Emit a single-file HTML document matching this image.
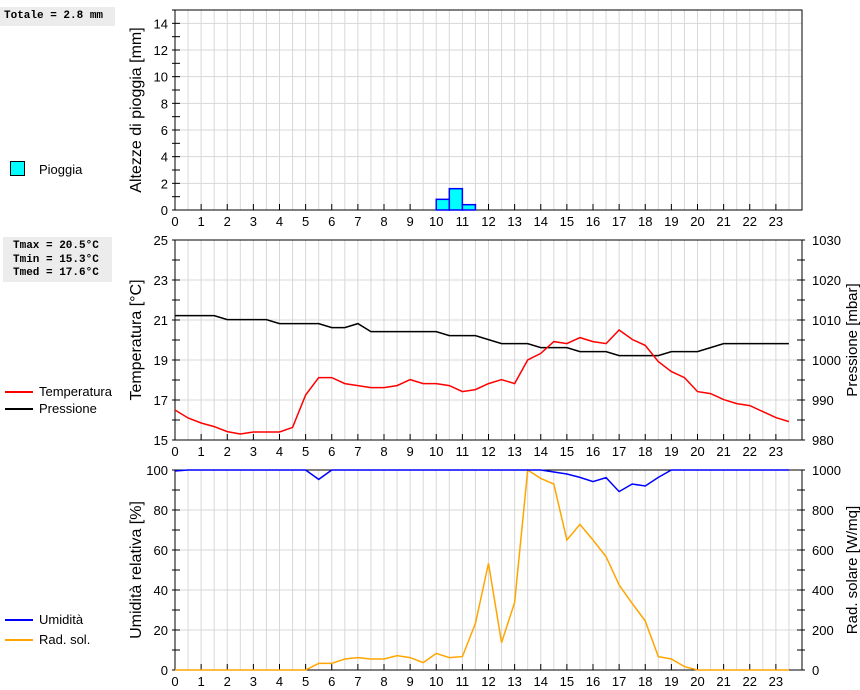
<!DOCTYPE html>
<html><head><meta charset="utf-8"><style>
body{margin:0;background:#fff;width:860px;height:690px;overflow:hidden;font-family:"Liberation Sans",sans-serif}
svg{display:block}
.box{font-family:"Liberation Mono",monospace;font-weight:bold;font-size:11px}
</style></head><body>
<svg id="c" width="860" height="690" xmlns="http://www.w3.org/2000/svg"></svg>
<script>
const hours=[];for(let i=0;i<48;i++)hours.push(i*0.5);
const rainT=[10,10.5,11];
const rainV=[0.8,1.6,0.4];
const temp=[16.5,16.1,15.85,15.67,15.42,15.3,15.4,15.4,15.4,15.63,17.25,18.12,18.12,17.82,17.72,17.62,17.62,17.72,18.02,17.82,17.82,17.72,17.42,17.52,17.82,18.02,17.82,19.0,19.33,19.92,19.82,20.12,19.92,19.82,20.5,20.03,19.73,18.92,18.42,18.12,17.42,17.32,17.02,16.82,16.72,16.42,16.12,15.92];
const press=[1011.1,1011.1,1011.1,1011.1,1010.1,1010.1,1010.1,1010.1,1009.1,1009.1,1009.1,1009.1,1008.1,1008.1,1009.1,1007.1,1007.1,1007.1,1007.1,1007.1,1007.1,1006.1,1006.1,1006.1,1005.1,1004.1,1004.1,1004.1,1003.1,1003.1,1003.1,1002.1,1002.1,1002.1,1001.1,1001.1,1001.1,1001.1,1002.1,1002.1,1002.1,1003.1,1004.1,1004.1,1004.1,1004.1,1004.1,1004.1];
const hum=[99.5,100,100,100,100,100,100,100,100,100,100,95.3,100,100,100,100,100,100,100,100,100,100,100,100,100,100,100,100,100,99,98,96.3,94.2,96.2,89.2,93,92,96.3,100,100,100,100,100,100,100,100,100,100];
const rad=[0,0,0,0,0,0,0,0,0,0,0,33,33,55,62,55,55,72,62,37,83,62,67,233,533,137,337,1050,958,930,650,728,650,567,425,333,245,67,55,17,0,0,0,0,0,0,0,0];
const xTicks=[];for(let i=0;i<24;i++)xTicks.push(i);

const S=document.getElementById('c');const NS='http://www.w3.org/2000/svg';
function el(t,a,p){const e=document.createElementNS(NS,t);for(const k in a)e.setAttribute(k,a[k]);(p||S).appendChild(e);return e;}
const X0=175,X1=802;const xs=t=>X0+t*(X1-X0)/24;
function panel(name,top,bot,lmin,lmax,lstep,lminor,rmin,rmax,rstep,ltitle,rtitle){
  const g=el('g',{});
  const ly=v=>bot-(v-lmin)/(lmax-lmin)*(bot-top);
  for(let t=0.5;t<24;t+=0.5)el('line',{x1:xs(t),x2:xs(t),y1:top,y2:bot,stroke:'#d8d8d8'},g);
  for(let v=lmin+lstep;v<lmax;v+=lstep)el('line',{x1:X0,x2:X1,y1:ly(v),y2:ly(v),stroke:'#d8d8d8'},g);
  el('rect',{x:X0,y:top,width:X1-X0,height:bot-top,fill:'none',stroke:'#000'},g);
  for(let v=lmin;v<=lmax+1e-9;v+=lminor){el('line',{x1:X0-3,x2:X0+5,y1:ly(v),y2:ly(v),stroke:'#000'},g);if(rtitle)el('line',{x1:X1+3,x2:X1-5,y1:ly(v),y2:ly(v),stroke:'#000'},g);}
  for(let v=lmin;v<=lmax+1e-9;v+=lstep){const t=el('text',{x:X0-7,y:ly(v)+5,'text-anchor':'end','font-size':13},g);t.textContent=v;}
  if(rtitle){for(let v=rmin;v<=rmax+1e-9;v+=rstep){const y=bot-(v-rmin)/(rmax-rmin)*(bot-top);const t=el('text',{x:812,y:y+5,'font-size':13},g);t.textContent=v;}}
  xTicks.forEach(h=>{el('line',{x1:xs(h),x2:xs(h),y1:bot,y2:bot-6,stroke:'#000'},g);const t=el('text',{x:xs(h),y:bot+16,'text-anchor':'middle','font-size':13},g);t.textContent=h;});
  const lt=el('text',{transform:`translate(141,${(top+bot)/2}) rotate(-90)`,'text-anchor':'middle','font-size':16},g);lt.textContent=ltitle;
  if(rtitle){const rt=el('text',{transform:`translate(857,${(top+bot)/2}) rotate(-90)`,'text-anchor':'middle','font-size':15},g);rt.textContent=rtitle;}
  return g;
}
function line(arr,ys,color,name){const pts=arr.map((v,i)=>xs(hours[i])+','+Math.max(ys(v),ys.top)).join(' ');const p=el('polyline',{points:pts,fill:'none',stroke:color,'stroke-width':1.5});}

panel('rain',10,210,0,15,2,1,0,0,0,'Altezze di pioggia [mm]',null);
const ry=v=>210-v/15*200;
rainT.forEach((t,i)=>{const r=el('rect',{x:xs(t),y:ry(rainV[i]),width:xs(t+0.5)-xs(t),height:210-ry(rainV[i]),fill:'#00ffff',stroke:'#0000ff','stroke-width':1.5});});

panel('temp',240,440,15,25,2,1,980,1030,10,'Temperatura [°C]','Pressione [mbar]');
const ty=v=>440-(v-15)/10*200;ty.top=240;
const py=v=>440-(v-980)/50*200;py.top=240;
line(press,py,'#000','pressure-line');
line(temp,ty,'#ff0000','temperature-line');

panel('hum',470,670,0,100,20,10,0,1000,200,'Umidità relativa [%]','Rad. solare [W/mq]');
const hy=v=>670-v/100*200;hy.top=470;
const sy=v=>670-v/1000*200;sy.top=470;
line(rad,sy,'#ffa500','radiation-line');
line(hum,hy,'#0000ff','humidity-line');
</script>
<div style="position:absolute;left:0;top:0;width:860px;height:690px">
<div class="box" style="position:absolute;left:0;top:7px;width:111px;height:19px;background:#ececec;line-height:19px;padding-left:4px">Totale = 2.8 mm</div>
<div class="box" style="position:absolute;left:3px;top:237px;width:109px;height:45px;background:#ececec;line-height:13.5px;padding-top:3px;box-sizing:border-box;padding-left:10px">Tmax = 20.5°C<br>Tmin = 15.3°C<br>Tmed = 17.6°C</div>
<div style="position:absolute;left:10px;top:161px;width:13px;height:13px;background:#00ffff;border:1px solid #000"></div>
<div style="position:absolute;left:39px;top:162px;font-size:13px">Pioggia</div>
<div style="position:absolute;left:5px;top:391px;width:28px;height:2px;background:#f00"></div>
<div style="position:absolute;left:39px;top:384px;font-size:13px">Temperatura</div>
<div style="position:absolute;left:5px;top:408px;width:28px;height:2px;background:#000"></div>
<div style="position:absolute;left:39px;top:401px;font-size:13px">Pressione</div>
<div style="position:absolute;left:5px;top:619px;width:28px;height:2px;background:#00f"></div>
<div style="position:absolute;left:39px;top:612px;font-size:13px">Umidità</div>
<div style="position:absolute;left:5px;top:639px;width:28px;height:2px;background:#ffa500"></div>
<div style="position:absolute;left:39px;top:632px;font-size:13px">Rad. sol.</div>
</div>
</body></html>
